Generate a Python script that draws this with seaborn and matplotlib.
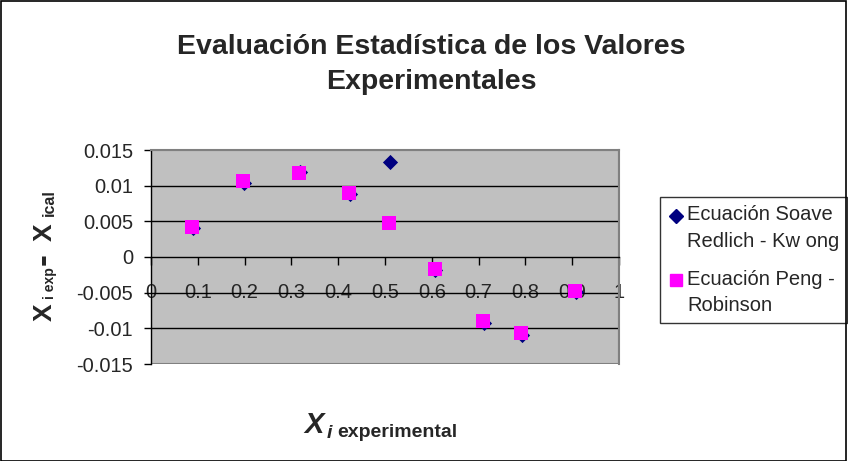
import numpy as np
import pandas as pd
import matplotlib
matplotlib.use("Agg")
import matplotlib.pyplot as plt
import seaborn as sns
from matplotlib.patches import Rectangle
from matplotlib.lines import Line2D
from matplotlib.legend_handler import HandlerLine2D

# values
x_srk = [0.090, 0.199, 0.318, 0.425, 0.511, 0.607, 0.711, 0.793, 0.908]
y_srk = [0.0040, 0.0104, 0.0119, 0.0088, 0.0133, -0.0018, -0.0092, -0.0109, -0.0049]
x_pr = [0.088, 0.197, 0.316, 0.423, 0.509, 0.607, 0.709, 0.791, 0.905]
y_pr = [0.0042, 0.0106, 0.0118, 0.0090, 0.0047, -0.0017, -0.0090, -0.0106, -0.0047]
label_srk = "Ecuación Soave\nRedlich - Kw ong"
label_pr = "Ecuación Peng -\nRobinson"
yticks = [-0.015, -0.01, -0.005, 0, 0.005, 0.01, 0.015]
ytick_labels = ["-0.015", "-0.01", "-0.005", "0", "0.005", "0.01", "0.015"]
xticks = [0, 0.1, 0.2, 0.3, 0.4, 0.5, 0.6, 0.7, 0.8, 0.9, 1]
xtick_labels = ["0", "0.1", "0.2", "0.3", "0.4", "0.5", "0.6", "0.7", "0.8", "0.9", "1"]

sns.set_style("white")
plt.rcParams["font.family"] = ["Liberation Sans", "DejaVu Sans"]

W, H = 848, 461
fig = plt.figure(figsize=(W / 100, H / 100), dpi=100)
ax = fig.add_axes([151 / W, 1 - 364 / H, 468 / W, 214 / H])
ax.set_facecolor("#C0C0C0")


def px(x, y):
    # pixel position (from top-left) -> figure fraction
    return x / W, 1 - y / H


class FirstLineHandler(HandlerLine2D):
    # put the legend marker next to the first text line, like Excel does
    def create_artists(self, legend, orig_handle, xdescent, ydescent,
                       width, height, fontsize, trans):
        arts = super().create_artists(legend, orig_handle, xdescent, ydescent,
                                      width, height, fontsize, trans)
        for a in arts:
            a.set_ydata([y + 0.62 * fontsize for y in a.get_ydata()])
        return arts


sns.scatterplot(x=x_srk, y=y_srk, ax=ax, marker="D", color="#000080", s=60,
                edgecolor="#000080", linewidth=0, zorder=3)
sns.scatterplot(x=x_pr, y=y_pr, ax=ax, marker="s", color="#FF00FF", s=100,
                edgecolor="#FF00FF", linewidth=0, zorder=4)

ax.set_xlim(0, 1)
ax.set_ylim(-0.015, 0.015)
ax.set_yticks(yticks)
ax.set_yticklabels(ytick_labels)
ax.set_xticks(xticks)
ax.set_xticklabels(xtick_labels)
for yv in [-0.01, -0.005, 0.005, 0.01]:
    ax.axhline(yv, color="black", lw=1, zorder=1)

for side in ["top", "right"]:
    ax.spines[side].set_color("#808080")
    ax.spines[side].set_linewidth(1.5)
ax.spines["left"].set_color("black")
ax.spines["left"].set_linewidth(1)
ax.spines["bottom"].set_position(("data", 0))
ax.spines["bottom"].set_color("black")
ax.spines["bottom"].set_linewidth(1)
ax.add_patch(Rectangle((0, 0), 1, 1, transform=ax.transAxes, fill=False,
                       edgecolor="#808080", lw=1.5, zorder=0.5))

ax.tick_params(axis="y", direction="out", length=5, width=1, color="black",
               labelsize=14.5, pad=8, left=True)
ax.tick_params(axis="x", direction="out", length=6, width=1, color="black",
               labelsize=14.5, pad=13, bottom=True)

# title
fig.text(*px(431, 47), "Evaluación Estadística de los Valores",
         ha="center", va="center", fontsize=20.5, fontweight="bold")
fig.text(*px(431, 82), "Experimentales",
         ha="center", va="center", fontsize=20.5, fontweight="bold")

# y label built from pieces (rotated, reading bottom to top)
rot = dict(rotation=90, rotation_mode="anchor", ha="left", va="baseline",
           fontweight="bold")
fig.text(*px(52, 321), "X", fontsize=19, **rot)
fig.text(*px(54, 299), "i exp", fontsize=10, **rot)
fig.text(*px(53, 265), "-", fontsize=26, **rot)
fig.text(*px(52, 241), "X", fontsize=19, **rot)
fig.text(*px(54, 216), "ical", fontsize=11.5, **rot)

# x label built from pieces
fig.text(*px(304, 433), "X", fontsize=21, fontweight="bold", style="italic",
         ha="left", va="baseline")
fig.text(*px(327, 438), "i", fontsize=14, fontweight="bold", style="italic",
         ha="left", va="baseline")
fig.text(*px(337, 437), "experimental", fontsize=14, fontweight="bold",
         ha="left", va="baseline")

handles = [Line2D([], [], ls="none", marker="D", color="#000080", markersize=7),
           Line2D([], [], ls="none", marker="s", color="#FF00FF", markersize=8)]
leg = ax.legend(handles, [label_srk, label_pr], loc="upper left",
                bbox_to_anchor=px(660, 197), bbox_transform=fig.transFigure,
                borderaxespad=0, frameon=True, fancybox=False, fontsize=14.5,
                borderpad=0.4, handletextpad=0.2, handlelength=0.75,
                labelspacing=0.95,
                handler_map={Line2D: FirstLineHandler()})
for t in leg.get_texts():
    t.set_linespacing(1.5)
leg.get_frame().set_edgecolor("black")
leg.get_frame().set_linewidth(1)

fig.patches.append(Rectangle((0.001, 0.001), 0.997, 0.996, transform=fig.transFigure,
                             fill=False, edgecolor="black", lw=1.2))

fig.savefig("out.png", dpi=100)
